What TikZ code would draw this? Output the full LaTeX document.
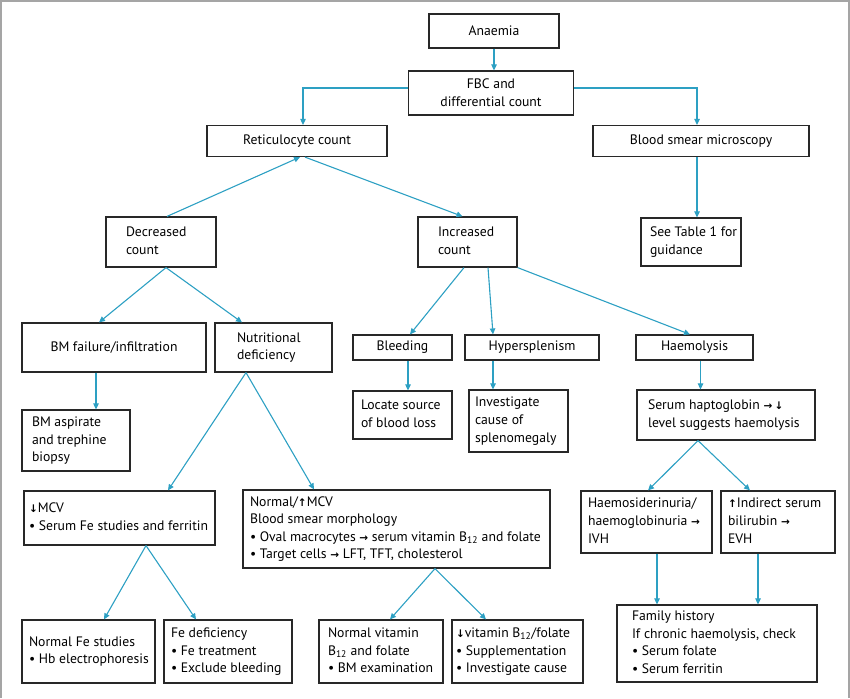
\documentclass[tikz,border=0pt]{standalone}
\usepackage{fontspec}
\setmainfont{PT Sans}
\newfontfamily\arrf{DejaVu Sans}
\usetikzlibrary{arrows.meta}
\definecolor{connc}{RGB}{45,160,195}
\definecolor{boxc}{RGB}{40,40,40}
\definecolor{framec}{RGB}{165,165,165}
\newcommand\ra{{\arrf\bfseries\fontsize{10.5}{10}\selectfont →}}
\newcommand\ua{{\arrf\bfseries\fontsize{10.5}{10}\selectfont ↑}}
\newcommand\da{{\arrf\bfseries\fontsize{10.5}{10}\selectfont ↓}}
\newcommand\lt[2]{\makebox[#1][l]{\begin{tabular}{@{}l@{}}#2\end{tabular}}}
\begin{document}
\begin{tikzpicture}[x=1pt,y=-1pt,
  font=\fontsize{13.7}{17.6}\selectfont,
  box/.style={draw=boxc, line width=1.2pt, inner ysep=2pt, align=center},
  link/.style={draw=connc, line width=1.1pt, -{Triangle[length=6pt,width=5.5pt]}}]
\useasboundingbox (0,0) rectangle (850,698);
\draw[framec, line width=1.5pt] (1,698) -- (1,1) -- (849,1) -- (849,698);

\node[box, minimum width=130pt, minimum height=34pt] (anaemia) at (494,31) {Anaemia};
\node[box, minimum width=165pt, minimum height=44pt] (fbc) at (491,93) {FBC and\\differential count};
\node[box, minimum width=180pt, minimum height=31pt] (retic) at (297,141) {Reticulocyte count};
\node[box, minimum width=216pt, minimum height=31pt] (smear) at (701,141) {Blood smear microscopy};
\node[box, minimum width=110pt, minimum height=50pt, inner xsep=20pt] (dec) at (161,242) {\lt{70pt}{Decreased\\count}};
\node[box, minimum width=99pt, minimum height=50pt, inner xsep=20pt] (inc) at (467.5,242) {\lt{59pt}{Increased\\count}};
\node[box, minimum width=100pt, minimum height=48pt, inner xsep=9pt] (table) at (691,242) {\lt{82pt}{See Table 1 for\\guidance}};
\node[box, minimum width=184pt, minimum height=49pt] (bmf) at (114,347.5) {BM failure/infiltration};
\node[box, minimum width=117pt, minimum height=49pt, inner xsep=22pt] (nut) at (273.5,347.5) {\lt{73pt}{Nutritional\\deficiency}};
\node[box, minimum width=99pt, minimum height=25pt] (bleed) at (402.5,347.5) {Bleeding};
\node[box, minimum width=134pt, minimum height=25pt] (hyper) at (532,347.5) {Hypersplenism};
\node[box, minimum width=117pt, minimum height=25pt] (haem) at (694.5,347.5) {Haemolysis};
\node[box, minimum width=108pt, minimum height=61pt, inner xsep=10pt] (bma) at (76,440.5) {\lt{88pt}{BM aspirate\\and trephine\\biopsy}};
\node[box, minimum width=99pt, minimum height=48pt, inner xsep=8pt] (locate) at (402.5,415) {\lt{83pt}{Locate source\\of blood loss}};
\node[box, minimum width=99pt, minimum height=62pt, inner xsep=6pt] (invest) at (518.5,421) {\lt{87pt}{Investigate\\cause of\\splenomegaly}};
\node[box, minimum width=178pt, minimum height=50pt, inner xsep=11pt] (hapto) at (726,415) {\lt{156pt}{Serum haptoglobin \ra\,\da\\level suggests haemolysis}};
\node[box, minimum width=191pt, minimum height=54pt, inner xsep=5pt] (mcvd) at (119.5,518) {\lt{181pt}{\da MCV\\\textbullet\ Serum Fe studies and ferritin}};
\node[box, minimum width=307pt, minimum height=78pt, inner xsep=7pt] (mcvn) at (396.5,529) {\lt{293pt}{Normal/\ua MCV\\Blood smear morphology\\\textbullet\ Oval macrocytes \ra\ serum vitamin B\textsubscript{12} and folate\\\textbullet\ Target cells \ra\ LFT, TFT, cholesterol}};
\node[box, minimum width=131pt, minimum height=62pt, inner xsep=7pt] (hsd) at (646.5,522) {\lt{117pt}{Haemosiderinuria/\\haemoglobinuria \ra\\IVH}};
\node[box, minimum width=114pt, minimum height=62pt, inner xsep=7pt] (ind) at (778,522) {\lt{100pt}{\ua Indirect serum\\bilirubin \ra\\EVH}};
\node[box, minimum width=133pt, minimum height=63pt, inner xsep=7pt] (nfe) at (88.5,651.5) {\lt{119pt}{Normal Fe studies\\\textbullet\ Hb electrophoresis}};
\node[box, minimum width=128pt, minimum height=63pt, inner xsep=7pt] (fed) at (228,651.5) {\lt{114pt}{Fe deficiency\\\textbullet\ Fe treatment\\\textbullet\ Exclude bleeding}};
\node[box, minimum width=124pt, minimum height=63pt, inner xsep=9pt] (nvb) at (381,651.5) {\lt{106pt}{Normal vitamin\\B\textsubscript{12} and folate\\\textbullet\ BM examination}};
\node[box, minimum width=131pt, minimum height=63pt, inner xsep=4pt] (lvb) at (517.5,651.5) {\lt{123pt}{\da vitamin B\textsubscript{12}/folate\\\textbullet\ Supplementation\\\textbullet\ Investigate cause}};
\node[box, minimum width=200pt, minimum height=77pt, inner xsep=15pt] (fam) at (717,643.5) {\lt{170pt}{Family history\\If chronic haemolysis, check\\\textbullet\ Serum folate\\\textbullet\ Serum ferritin}};

\draw[link] (anaemia.south) -- (anaemia.south |- fbc.north);
\draw[link] ([yshift=5pt]fbc.west) -| ([xshift=6pt]retic.north);
\draw[link] ([yshift=5pt]fbc.east) -| ([xshift=-4pt]smear.north);
\draw[link] ([xshift=6pt]dec.north) -- ([xshift=3pt]retic.south);
\draw[link] ([xshift=8pt]retic.south) -- ([xshift=-5pt]inc.north);
\draw[link] ([xshift=-4pt]smear.south) -- ([xshift=-4pt]smear.south |- table.north);
\draw[link] ([xshift=5pt]dec.south) -- ([xshift=-15pt]bmf.north);
\draw[link] ([xshift=5pt]dec.south) -- ([xshift=-31.5pt]nut.north);
\draw[link] ([xshift=-18pt]bmf.south) -- ([xshift=-18pt]bmf.south |- bma.north);
\draw[link] ([xshift=-3.5pt]inc.south) -- ([xshift=7.5pt]bleed.north);
\draw[link] ([xshift=20.5pt]inc.south) -- ([xshift=-39pt]hyper.north);
\draw[link] (inc.south east) -- ([xshift=-4.5pt]haem.north);
\draw[link] ([xshift=5.5pt]bleed.south) -- ([xshift=5.5pt]bleed.south |- locate.north);
\draw[link] ([xshift=-39pt]hyper.south) -- ([xshift=-39pt]hyper.south |- invest.north);
\draw[link] ([xshift=6pt]haem.south) -- ([xshift=6pt]haem.south |- hapto.north);
\draw[link] ([xshift=-27.5pt]nut.south) -- ([xshift=48.5pt]mcvd.north);
\draw[link] ([xshift=-27.5pt]nut.south) -- ([xshift=-82.5pt]mcvn.north);
\draw[link] ([xshift=26.5pt]mcvd.south) -- ([xshift=15.5pt]nfe.north);
\draw[link] ([xshift=26.5pt]mcvd.south) -- ([xshift=-32pt]fed.north);
\draw[link] ([xshift=38.5pt]mcvn.south) -- ([xshift=9pt]nvb.north);
\draw[link] ([xshift=38.5pt]mcvn.south) -- ([xshift=-31.5pt]lvb.north);
\draw[link] ([xshift=-28pt]hapto.south) -- ([xshift=1.5pt]hsd.north);
\draw[link] ([xshift=-28pt]hapto.south) -- ([xshift=-28pt]ind.north);
\draw[link] ([xshift=10.5pt]hsd.south) -- ([xshift=10.5pt]hsd.south |- fam.north);
\draw[link] ([xshift=-20pt]ind.south) -- ([xshift=-20pt]ind.south |- fam.north);
\end{tikzpicture}
\end{document}
